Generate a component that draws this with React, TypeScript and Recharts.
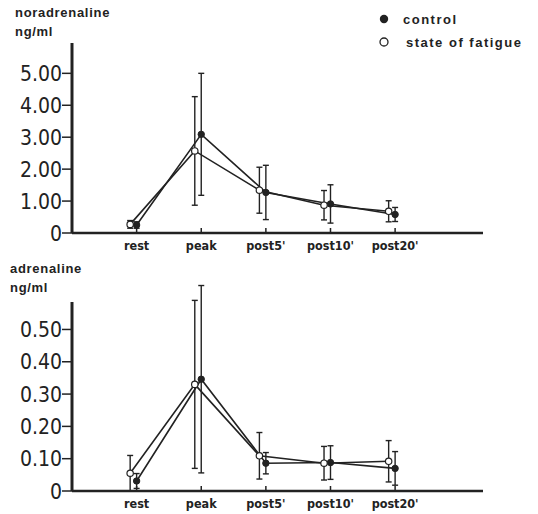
import React from 'react';
import { ScatterChart, Scatter, XAxis, YAxis, ErrorBar, ReferenceLine } from 'recharts';

const stages = ['rest', 'peak', "post5'", "post10'", "post20'"];

// noradrenaline, ng/ml (mean and SD)
const noraControl = [0.25, 3.09, 1.27, 0.91, 0.58];
const noraControlSd = [0.1, 1.91, 0.85, 0.6, 0.22];
const noraFatigue = [0.27, 2.57, 1.34, 0.87, 0.68];
const noraFatigueSd = [0.12, 1.7, 0.72, 0.46, 0.33];

// adrenaline, ng/ml (mean and SD)
const adrControl = [0.031, 0.346, 0.086, 0.088, 0.07];
const adrControlSd = [0.023, 0.29, 0.033, 0.052, 0.052];
const adrFatigue = [0.055, 0.33, 0.109, 0.086, 0.092];
const adrFatigueSd = [0.055, 0.26, 0.072, 0.052, 0.064];

const noraTicks = [0, 1, 2, 3, 4, 5];
const adrTicks = [0, 0.1, 0.2, 0.3, 0.4, 0.5];

// open circles are drawn a little left of each time point
const FATIGUE_SHIFT = -0.1;

const INK = '#222';
const NUM_FONT = "'DejaVu Sans Condensed', 'Liberation Sans Narrow', 'Arial Narrow', sans-serif";
const LABEL_FONT = "'Liberation Sans', Arial, sans-serif";

const toRows = (values: number[], sds: number[], shift: number) =>
    values.map((v, i) => ({ x: i + 1 + shift, y: v, err: sds[i] }));

const StageTick = (props: any) => {
    const { x, y, payload } = props;
    return (
        <g>
            <line x1={x} y1={y} x2={x} y2={y - 5} stroke={INK} strokeWidth={1.5} />
            <text
                x={x}
                y={y + 17}
                textAnchor="middle"
                fontFamily={NUM_FONT}
                fontSize={12.5}
                fontWeight="bold"
                fill={INK}
            >
                {stages[Math.round(payload.value) - 1]}
            </text>
        </g>
    );
};

const ValueTick = (props: any) => {
    const { x, y, payload } = props;
    const label = payload.value === 0 ? '0' : Number(payload.value).toFixed(2);
    return (
        <g>
            <line x1={x - 10} y1={y} x2={x} y2={y} stroke={INK} strokeWidth={1.5} />
            <text
                x={x - 10}
                y={y}
                dy="0.36em"
                textAnchor="end"
                fontFamily={NUM_FONT}
                fontSize={21}
                fill={INK}
            >
                {label}
            </text>
        </g>
    );
};

const filledDot = (p: any) => (
    <circle cx={p.cx} cy={p.cy} r={3.2} fill={INK} stroke={INK} strokeWidth={1} />
);
const openDot = (p: any) => (
    <circle cx={p.cx} cy={p.cy} r={3.2} fill="#fff" stroke={INK} strokeWidth={1.2} />
);

interface PanelProps {
    control: number[];
    controlSd: number[];
    fatigue: number[];
    fatigueSd: number[];
    ticks: number[];
    yMax: number;
    axisTop: number;
    height: number;
    top: number;
    xAxisHeight: number;
}

const Panel = ({ control, controlSd, fatigue, fatigueSd, ticks, yMax, axisTop, height, top, xAxisHeight }: PanelProps) => (
    <ScatterChart width={538} height={height} margin={{ top, right: 55, bottom: 0, left: 0 }}>
        <XAxis
            dataKey="x"
            type="number"
            domain={[0, 6.36]}
            ticks={[1, 2, 3, 4, 5]}
            height={xAxisHeight}
            tickSize={0}
            tickMargin={0}
            tickLine={false}
            tick={<StageTick />}
            axisLine={{ stroke: INK, strokeWidth: 2.5 }}
        />
        <YAxis
            dataKey="y"
            type="number"
            domain={[0, yMax]}
            ticks={ticks}
            width={72}
            tickSize={0}
            tickMargin={0}
            tickLine={false}
            tick={<ValueTick />}
            axisLine={false}
        />
        <ReferenceLine
            segment={[{ x: 0, y: 0 }, { x: 0, y: axisTop }]}
            stroke={INK}
            strokeWidth={3}
        />
        <Scatter
            data={toRows(control, controlSd, 0)}
            line={{ stroke: INK, strokeWidth: 1.6 }}
            shape={filledDot}
            isAnimationActive={false}
        >
            <ErrorBar dataKey="err" direction="y" width={3} stroke={INK} strokeWidth={1.4} />
        </Scatter>
        <Scatter
            data={toRows(fatigue, fatigueSd, FATIGUE_SHIFT)}
            line={{ stroke: INK, strokeWidth: 1.6 }}
            shape={openDot}
            isAnimationActive={false}
        >
            <ErrorBar dataKey="err" direction="y" width={3} stroke={INK} strokeWidth={1.4} />
        </Scatter>
    </ScatterChart>
);

const titleStyle = (left: number, top: number): React.CSSProperties => ({
    position: 'absolute',
    left,
    top,
    fontFamily: LABEL_FONT,
    fontWeight: 'bold',
    fontSize: 13,
    letterSpacing: 0.7,
    lineHeight: '14px',
    color: INK,
});

const App = () => {
    return (
        <div style={{ position: 'absolute', left: 0, top: 0, width: 538, height: 514, background: '#fff' }}>
            <div style={{ position: 'absolute', left: 0, top: 0 }}>
                <Panel
                    control={noraControl}
                    controlSd={noraControlSd}
                    fatigue={noraFatigue}
                    fatigueSd={noraFatigueSd}
                    ticks={noraTicks}
                    yMax={5.95}
                    axisTop={5.95}
                    height={256}
                    top={43}
                    xAxisHeight={23}
                />
            </div>
            <div style={{ position: 'absolute', left: 0, top: 256 }}>
                <Panel
                    control={adrControl}
                    controlSd={adrControlSd}
                    fatigue={adrFatigue}
                    fatigueSd={adrFatigueSd}
                    ticks={adrTicks}
                    yMax={0.65}
                    axisTop={0.585}
                    height={258}
                    top={25}
                    xAxisHeight={23}
                />
            </div>
            <div style={titleStyle(15, 6)}>noradrenaline</div>
            <div style={titleStyle(15, 25)}>ng/ml</div>
            <div style={titleStyle(10, 262)}>adrenaline</div>
            <div style={titleStyle(10, 281)}>ng/ml</div>
            <svg style={{ position: 'absolute', left: 370, top: 0 }} width={168} height={56}>
                <circle cx={14} cy={19} r={4.2} fill={INK} />
                <text x={33} y={19} dy="0.36em" fontFamily={LABEL_FONT} fontWeight="bold" fontSize={13} letterSpacing={1.5} fill={INK}>
                    control
                </text>
                <circle cx={14} cy={42} r={4} fill="#fff" stroke={INK} strokeWidth={1.3} />
                <text x={36} y={42} dy="0.36em" fontFamily={LABEL_FONT} fontWeight="bold" fontSize={13} letterSpacing={1.5} fill={INK}>
                    state of fatigue
                </text>
            </svg>
        </div>
    );
};

export default App;
